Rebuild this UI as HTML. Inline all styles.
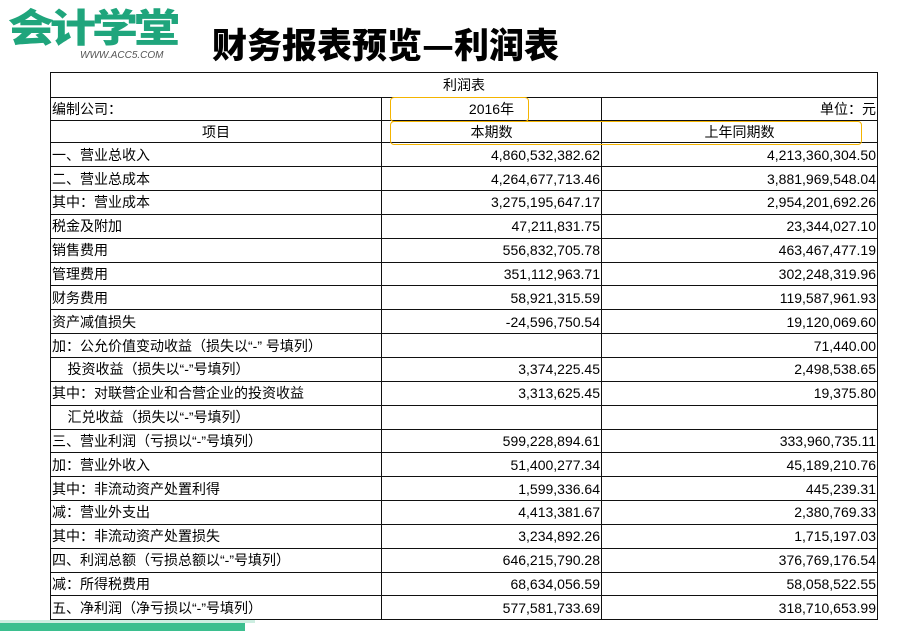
<!DOCTYPE html>
<html><head><meta charset="utf-8"><style>
body{margin:0;width:903px;height:631px;background:#fff;position:relative;overflow:hidden;font-family:"Liberation Sans","Noto Sans CJK SC",sans-serif;}
.logo{position:absolute;left:8px;top:2px;font-size:46px;font-weight:900;color:#1fa57c;letter-spacing:-4px;font-family:"Noto Sans CJK SC",sans-serif;line-height:56px;transform:scaleY(0.85);transform-origin:top left;}
.url{position:absolute;left:80px;top:50px;font-size:10px;color:#555;font-style:italic;}
.title{position:absolute;left:212px;top:18px;font-size:35px;font-weight:900;color:#000;font-family:"Noto Sans CJK SC",sans-serif;line-height:52px;}
table{position:absolute;left:50px;top:72px;border-collapse:collapse;font-size:14px;font-family:"Liberation Sans","Noto Sans CJK SC",sans-serif;}
td{border:1.3px solid #111;padding:0 1px;height:22.85px;line-height:20px;white-space:nowrap;}
tr.h td{height:21.7px;}
td.n{text-align:right;}
.ob{position:absolute;border:1.5px solid #f4b400;border-radius:4px;}
.bar{position:absolute;left:0;top:623px;width:245px;height:8px;background:#3bbf8f;}
.bar2{position:absolute;left:0;top:620px;width:255px;height:3px;background:#cdeee1;}
</style></head><body>
<div class="logo">会计学堂</div>
<div class="url">WWW.ACC5.COM</div>
<div class="title">财务报表预览—利润表</div>
<table>
<colgroup><col style="width:331px"><col style="width:220px"><col style="width:276px"></colgroup>
<tr class="h"><td colspan="3" style="text-align:center;height:24px">利润表</td></tr>
<tr class="h"><td>编制公司：</td><td style="text-align:center">2016年</td><td class="n">单位：元</td></tr>
<tr class="h"><td style="text-align:center">项目</td><td style="text-align:center">本期数</td><td style="text-align:center">上年同期数</td></tr>
<tr><td>一、营业总收入</td><td class="n">4,860,532,382.62</td><td class="n">4,213,360,304.50</td></tr>
<tr><td>二、营业总成本</td><td class="n">4,264,677,713.46</td><td class="n">3,881,969,548.04</td></tr>
<tr><td>其中：营业成本</td><td class="n">3,275,195,647.17</td><td class="n">2,954,201,692.26</td></tr>
<tr><td>税金及附加</td><td class="n">47,211,831.75</td><td class="n">23,344,027.10</td></tr>
<tr><td>销售费用</td><td class="n">556,832,705.78</td><td class="n">463,467,477.19</td></tr>
<tr><td>管理费用</td><td class="n">351,112,963.71</td><td class="n">302,248,319.96</td></tr>
<tr><td>财务费用</td><td class="n">58,921,315.59</td><td class="n">119,587,961.93</td></tr>
<tr><td>资产减值损失</td><td class="n">-24,596,750.54</td><td class="n">19,120,069.60</td></tr>
<tr><td>加：公允价值变动收益（损失以“-” 号填列）</td><td class="n"></td><td class="n">71,440.00</td></tr>
<tr><td>&nbsp;&nbsp;&nbsp;&nbsp;投资收益（损失以“-”号填列）</td><td class="n">3,374,225.45</td><td class="n">2,498,538.65</td></tr>
<tr><td>其中：对联营企业和合营企业的投资收益</td><td class="n">3,313,625.45</td><td class="n">19,375.80</td></tr>
<tr><td>&nbsp;&nbsp;&nbsp;&nbsp;汇兑收益（损失以“-”号填列）</td><td class="n"></td><td class="n"></td></tr>
<tr><td>三、营业利润（亏损以“-”号填列）</td><td class="n">599,228,894.61</td><td class="n">333,960,735.11</td></tr>
<tr><td>加：营业外收入</td><td class="n">51,400,277.34</td><td class="n">45,189,210.76</td></tr>
<tr><td>其中：非流动资产处置利得</td><td class="n">1,599,336.64</td><td class="n">445,239.31</td></tr>
<tr><td>减：营业外支出</td><td class="n">4,413,381.67</td><td class="n">2,380,769.33</td></tr>
<tr><td>其中：非流动资产处置损失</td><td class="n">3,234,892.26</td><td class="n">1,715,197.03</td></tr>
<tr><td>四、利润总额（亏损总额以“-”号填列）</td><td class="n">646,215,790.28</td><td class="n">376,769,176.54</td></tr>
<tr><td>减：所得税费用</td><td class="n">68,634,056.59</td><td class="n">58,058,522.55</td></tr>
<tr><td>五、净利润（净亏损以“-”号填列）</td><td class="n">577,581,733.69</td><td class="n">318,710,653.99</td></tr>
</table>
<div class="ob" style="left:390px;top:97px;width:137px;height:23px"></div>
<div class="ob" style="left:390px;top:121px;width:470px;height:22px"></div>
<div class="bar2"></div><div class="bar"></div>
</body></html>
